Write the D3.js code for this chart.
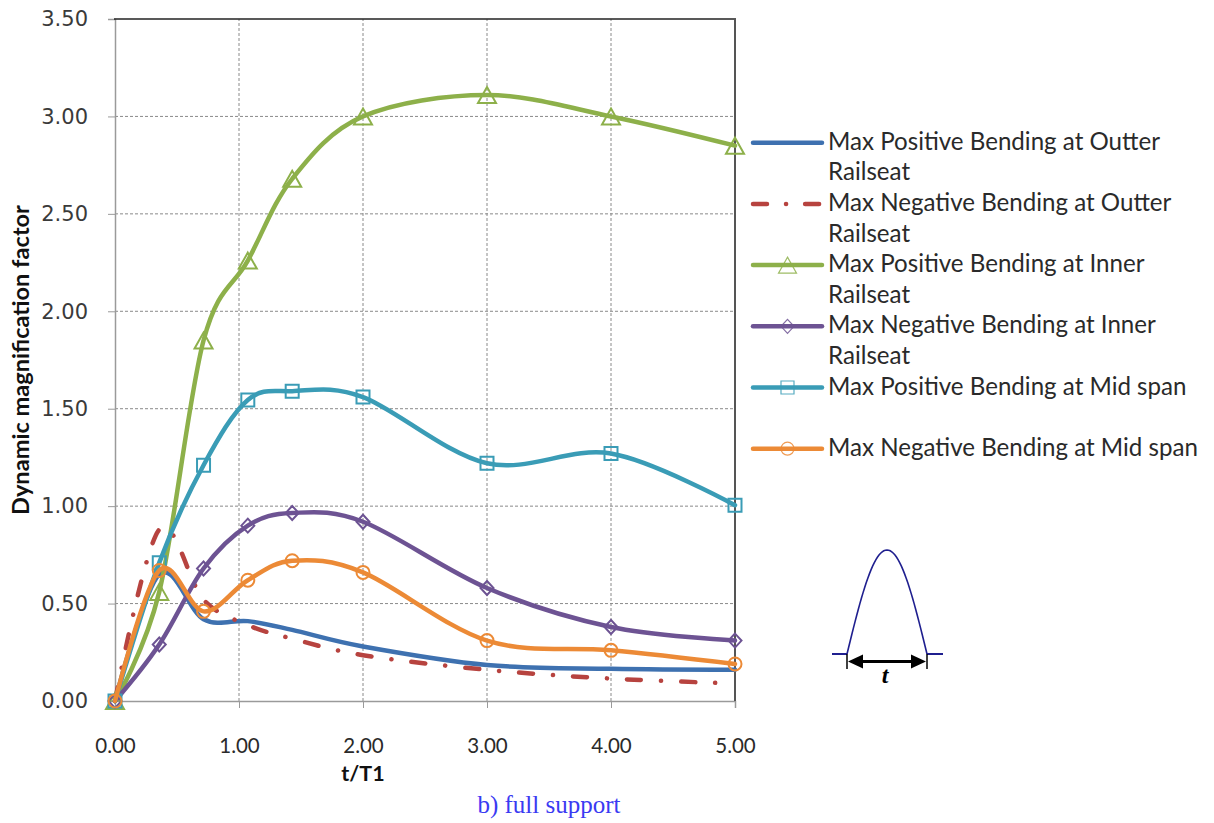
<!DOCTYPE html>
<html>
<head>
<meta charset="utf-8">
<script src="https://cdn.jsdelivr.net/npm/d3@7"></script>
<style>
  body { margin: 0; background: #fff; }
  svg { display: block; }
</style>
</head>
<body>
<svg id="chart" width="1214" height="823"></svg>
<script>
// t/T1 sample positions shared by every series
const tRatio = [0, 0.357, 0.714, 1.071, 1.429, 2, 3, 4, 5];

// Dynamic magnification factor per load case
const posOuter = [0, 0.65, 0.42, 0.41, 0.365, 0.28, 0.185, 0.165, 0.16];
const negOuter = [0, 0.88, 0.52, 0.39, 0.32, 0.235, 0.16, 0.115, 0.09];
const posInner = [0, 0.56, 1.85, 2.26, 2.68, 3.00, 3.11, 3.00, 2.85];
const negInner = [0, 0.29, 0.68, 0.90, 0.965, 0.92, 0.58, 0.38, 0.31];
const posMid   = [0, 0.71, 1.21, 1.545, 1.59, 1.56, 1.22, 1.27, 1.005];
const negMid   = [0, 0.67, 0.46, 0.62, 0.72, 0.66, 0.31, 0.26, 0.19];

const legendLabels = [
  ["Max Positive Bending at Outter", "Railseat"],
  ["Max Negative Bending at Outter", "Railseat"],
  ["Max Positive Bending at Inner", "Railseat"],
  ["Max Negative Bending at Inner", "Railseat"],
  ["Max Positive Bending at Mid span"],
  ["Max Negative Bending at Mid span"]
];

const yTicks = [0, 0.5, 1, 1.5, 2, 2.5, 3, 3.5];
const xTicks = [0, 1, 2, 3, 4, 5];

const series = [
  { values: posOuter, color: "#3e71b0", marker: null,       dash: null },
  { values: negOuter, color: "#b7433f", marker: null,       dash: "14,20,0.1,20" },
  { values: posInner, color: "#8db04a", marker: "triangle", dash: null },
  { values: negInner, color: "#6d5393", marker: "diamond",  dash: null },
  { values: posMid,   color: "#3a9cb6", marker: "square",   dash: null },
  { values: negMid,   color: "#ec8a36", marker: "circle",   dash: null }
];

const svg = d3.select("#chart");
const x = d3.scaleLinear().domain([0, 5]).range([115, 735]);
const y = d3.scaleLinear().domain([0, 3.5]).range([701, 19]);

// dashed grid
const grid = svg.append("g");
grid.selectAll("line.h").data(yTicks.filter(d => d > 0 && d < 3.5)).join("line")
  .attr("x1", x(0)).attr("x2", x(5))
  .attr("y1", d => y(d)).attr("y2", d => y(d))
  .attr("stroke", "#8a8a8a").attr("stroke-width", 1).attr("stroke-dasharray", "3,2");
grid.selectAll("line.v").data(xTicks.filter(d => d > 0 && d < 5)).join("line")
  .attr("x1", d => x(d)).attr("x2", d => x(d))
  .attr("y1", y(0)).attr("y2", y(3.5))
  .attr("stroke", "#8a8a8a").attr("stroke-width", 1).attr("stroke-dasharray", "3,2");

// axes
const yAxis = svg.append("g").attr("transform", `translate(${x(0)},0)`)
  .call(d3.axisLeft(y).tickValues(yTicks).tickFormat(d3.format(".2f")).tickSize(7).tickPadding(20));
yAxis.select(".domain").attr("stroke", "#9a9a9a").attr("stroke-width", 1.5);
yAxis.selectAll(".tick line").attr("stroke", "#9a9a9a");
yAxis.selectAll("text").attr("font-family", "DejaVu Sans").attr("font-size", 21).attr("fill", "#3a3a3a");

const xAxis = svg.append("g").attr("transform", `translate(0,${y(0)})`)
  .call(d3.axisBottom(x).tickValues(xTicks).tickFormat(d3.format(".2f")).tickSize(7).tickPadding(30));
xAxis.select(".domain").attr("stroke", "#9a9a9a").attr("stroke-width", 1.5);
xAxis.selectAll(".tick line").attr("stroke", "#9a9a9a");
xAxis.selectAll("text").attr("font-family", "Lato").attr("font-size", 20.5).attr("fill", "#2a2a2a");

// plot frame top and right
svg.append("line").attr("x1", x(0) - 1).attr("x2", x(5) + 1).attr("y1", y(3.5)).attr("y2", y(3.5))
  .attr("stroke", "#222").attr("stroke-width", 1.5);
svg.append("line").attr("x1", x(5)).attr("x2", x(5)).attr("y1", y(3.5)).attr("y2", y(0))
  .attr("stroke", "#555").attr("stroke-width", 2);

// marker shapes
function markerPath(kind) {
  switch (kind) {
    case "triangle": return "M0,-8L9,8L-9,8Z";
    case "square":   return "M-6.5,-6.5H6.5V6.5H-6.5Z";
    case "diamond":  return "M0,-7L6.5,0L0,7L-6.5,0Z";
    case "circle":   return d3.arc()({ innerRadius: 0, outerRadius: 6.5, startAngle: 0, endAngle: 2 * Math.PI });
  }
  return null;
}

const line = d3.line().curve(d3.curveCardinal.tension(0))
  .x((d, i) => x(tRatio[i])).y(d => y(d));

const plot = svg.append("g");
series.forEach(s => {
  const g = plot.append("g");
  g.append("path").attr("d", line(s.values))
    .attr("fill", "none").attr("stroke", s.color).attr("stroke-width", 4.5)
    .attr("stroke-linecap", "round").attr("stroke-linejoin", "round")
    .attr("stroke-dasharray", s.dash);
  if (s.marker) {
    g.selectAll("path.m").data(s.values).join("path").attr("class", "m")
      .attr("transform", (d, i) => `translate(${x(tRatio[i])},${y(d)})`)
      .attr("d", markerPath(s.marker))
      .attr("fill", "none").attr("stroke", s.color).attr("stroke-width", 2);
  }
});

// legend
const legend = svg.append("g");
const rowTop = 142.7, rowStep = 61.2, lineGap = 30.6;
const fitProbe = legend.append("text").attr("font-family", "Lato").attr("font-size", 20).text(legendLabels[0][0]);
const legendFont = 20 * 332 / fitProbe.node().getComputedTextLength();
fitProbe.remove();
series.forEach((s, i) => {
  const cy = rowTop + i * rowStep;
  legend.append("line").attr("x1", 753).attr("x2", 822).attr("y1", cy).attr("y2", cy)
    .attr("stroke", s.color).attr("stroke-width", 4.5).attr("stroke-linecap", "round")
    .attr("stroke-dasharray", s.dash ? "14,19,0.1,19" : null);
  if (s.marker) {
    legend.append("path").attr("transform", `translate(787.5,${cy})`).attr("d", markerPath(s.marker))
      .attr("fill", "none").attr("stroke", s.color).attr("stroke-width", 1.2).attr("opacity", 0.85);
  }
  const t = legend.append("text").attr("font-family", "Lato").attr("font-size", legendFont).attr("fill", "#2a2a2a");
  legendLabels[i].forEach((txt, k) => {
    t.append("tspan").attr("x", 828).attr("y", cy + 7 + k * lineGap).text(txt);
  });
});

// axis titles
const yTitle = svg.append("text").attr("transform", "translate(29,360) rotate(-90)")
  .attr("text-anchor", "middle").attr("font-family", "Lato").attr("font-weight", "bold")
  .attr("font-size", 19).attr("fill", "#111").text("Dynamic magnification factor");
const yw = yTitle.node().getComputedTextLength();
yTitle.attr("font-size", 19 * 310 / yw);

svg.append("text").attr("x", x(2)).attr("y", 781).attr("text-anchor", "middle")
  .attr("font-family", "Lato").attr("font-weight", "bold").attr("font-size", 21.5).attr("fill", "#111")
  .text("t/T1");

svg.append("text").attr("x", 549).attr("y", 813).attr("text-anchor", "middle")
  .attr("font-family", "Liberation Serif").attr("font-size", 25).attr("fill", "#3a3af2")
  .text("b) full support");

// load pulse sketch with duration t
const inset = svg.append("g");
const pulseLeft = 847, pulseRight = 927, pulseBase = 654, pulseTop = 550;
const pulse = d3.range(0, 1.0001, 0.02).map(u => [
  pulseLeft + u * (pulseRight - pulseLeft),
  pulseBase - (pulseBase - pulseTop) * Math.sin(Math.PI * u)
]);
inset.append("path").attr("d", d3.line()(pulse)).attr("fill", "none")
  .attr("stroke", "#1f1f8f").attr("stroke-width", 1.6);
inset.append("line").attr("x1", 832).attr("x2", pulseLeft).attr("y1", pulseBase).attr("y2", pulseBase)
  .attr("stroke", "#1f1f8f").attr("stroke-width", 2);
inset.append("line").attr("x1", pulseRight).attr("x2", 943).attr("y1", pulseBase).attr("y2", pulseBase)
  .attr("stroke", "#1f1f8f").attr("stroke-width", 2);
[pulseLeft, pulseRight].forEach(px => {
  inset.append("line").attr("x1", px).attr("x2", px).attr("y1", pulseBase).attr("y2", 669)
    .attr("stroke", "#000").attr("stroke-width", 1.5);
});
const ay = 661.5;
inset.append("line").attr("x1", pulseLeft + 10).attr("x2", pulseRight - 10).attr("y1", ay).attr("y2", ay)
  .attr("stroke", "#000").attr("stroke-width", 3);
inset.append("path").attr("d", `M${pulseLeft + 1},${ay}L${pulseLeft + 16},${ay - 7}L${pulseLeft + 16},${ay + 7}Z`).attr("fill", "#000");
inset.append("path").attr("d", `M${pulseRight - 1},${ay}L${pulseRight - 16},${ay - 7}L${pulseRight - 16},${ay + 7}Z`).attr("fill", "#000");
inset.append("text").attr("x", 885).attr("y", 683).attr("text-anchor", "middle")
  .attr("font-family", "Liberation Serif").attr("font-style", "italic").attr("font-weight", "bold")
  .attr("font-size", 24).attr("fill", "#000").text("t");
</script>
</body>
</html>
